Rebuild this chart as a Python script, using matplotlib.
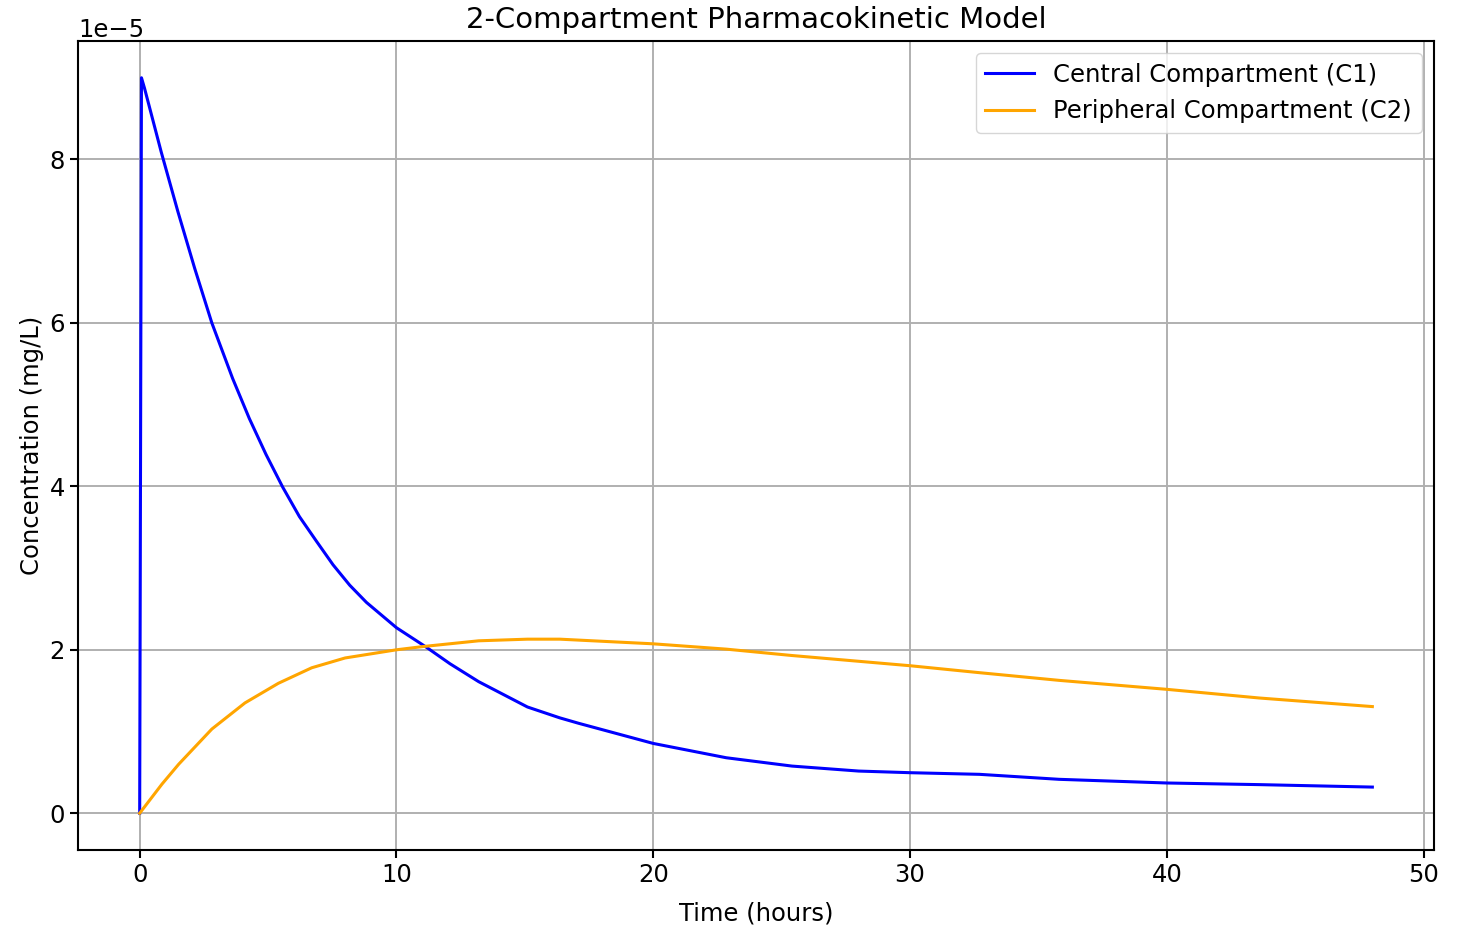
import numpy as np
import matplotlib
matplotlib.use('Agg')
import matplotlib.pyplot as plt

# values (concentration in units of 1e-5 mg/L)
t_c1 = [0, 0.07, 0.19, 0.84, 1.49, 2.14, 2.81, 3.62, 4.27, 4.92, 5.57, 6.22, 6.88,
        7.53, 8.18, 8.83, 10.0, 11.17, 12.08, 13.2, 15.1, 16.36, 17.1, 20.0, 22.84,
        25.4, 28.0, 30.0, 32.7, 35.8, 40.0, 43.6, 48.0]
c1 = [0, 9.0, 8.87, 8.09, 7.36, 6.67, 6.0, 5.32, 4.83, 4.39, 3.99, 3.63, 3.33,
      3.04, 2.79, 2.58, 2.27, 2.03, 1.83, 1.61, 1.30, 1.167, 1.10, 0.854, 0.679,
      0.577, 0.516, 0.496, 0.476, 0.415, 0.37, 0.35, 0.32]

t_c2 = [0, 0.87, 1.52, 2.81, 4.1, 5.4, 6.7, 8.0, 10.0, 11.04, 13.2, 15.1, 16.36,
        20.0, 22.84, 25.4, 30.0, 32.7, 35.8, 40.0, 43.6, 48.0]
c2 = [0, 0.357, 0.6, 1.03, 1.35, 1.59, 1.78, 1.90, 2.0, 2.04, 2.11, 2.13, 2.13,
      2.073, 2.008, 1.93, 1.805, 1.72, 1.626, 1.516, 1.41, 1.305]

plt.rcParams['font.size'] = 17.5

fig = plt.figure(figsize=(14.67, 9.51), dpi=100)
ax = fig.add_axes([0.0532, 0.1062, 0.9243, 0.8507])
ax.plot(t_c1, np.array(c1) * 1e-5, color='blue', lw=2.2, label='Central Compartment (C1)')
ax.plot(t_c2, np.array(c2) * 1e-5, color='orange', lw=2.2, label='Peripheral Compartment (C2)')
ax.set_title('2-Compartment Pharmacokinetic Model', fontsize=21, pad=9)
ax.set_xlabel('Time (hours)', labelpad=10)
ax.set_ylabel('Concentration (mg/L)')
ax.grid(True, lw=1.4)
ax.legend(loc='upper right')
for s in ax.spines.values():
    s.set_linewidth(1.5)
ax.tick_params(width=1.5, length=6)
fig.savefig('out.png', dpi=100)
